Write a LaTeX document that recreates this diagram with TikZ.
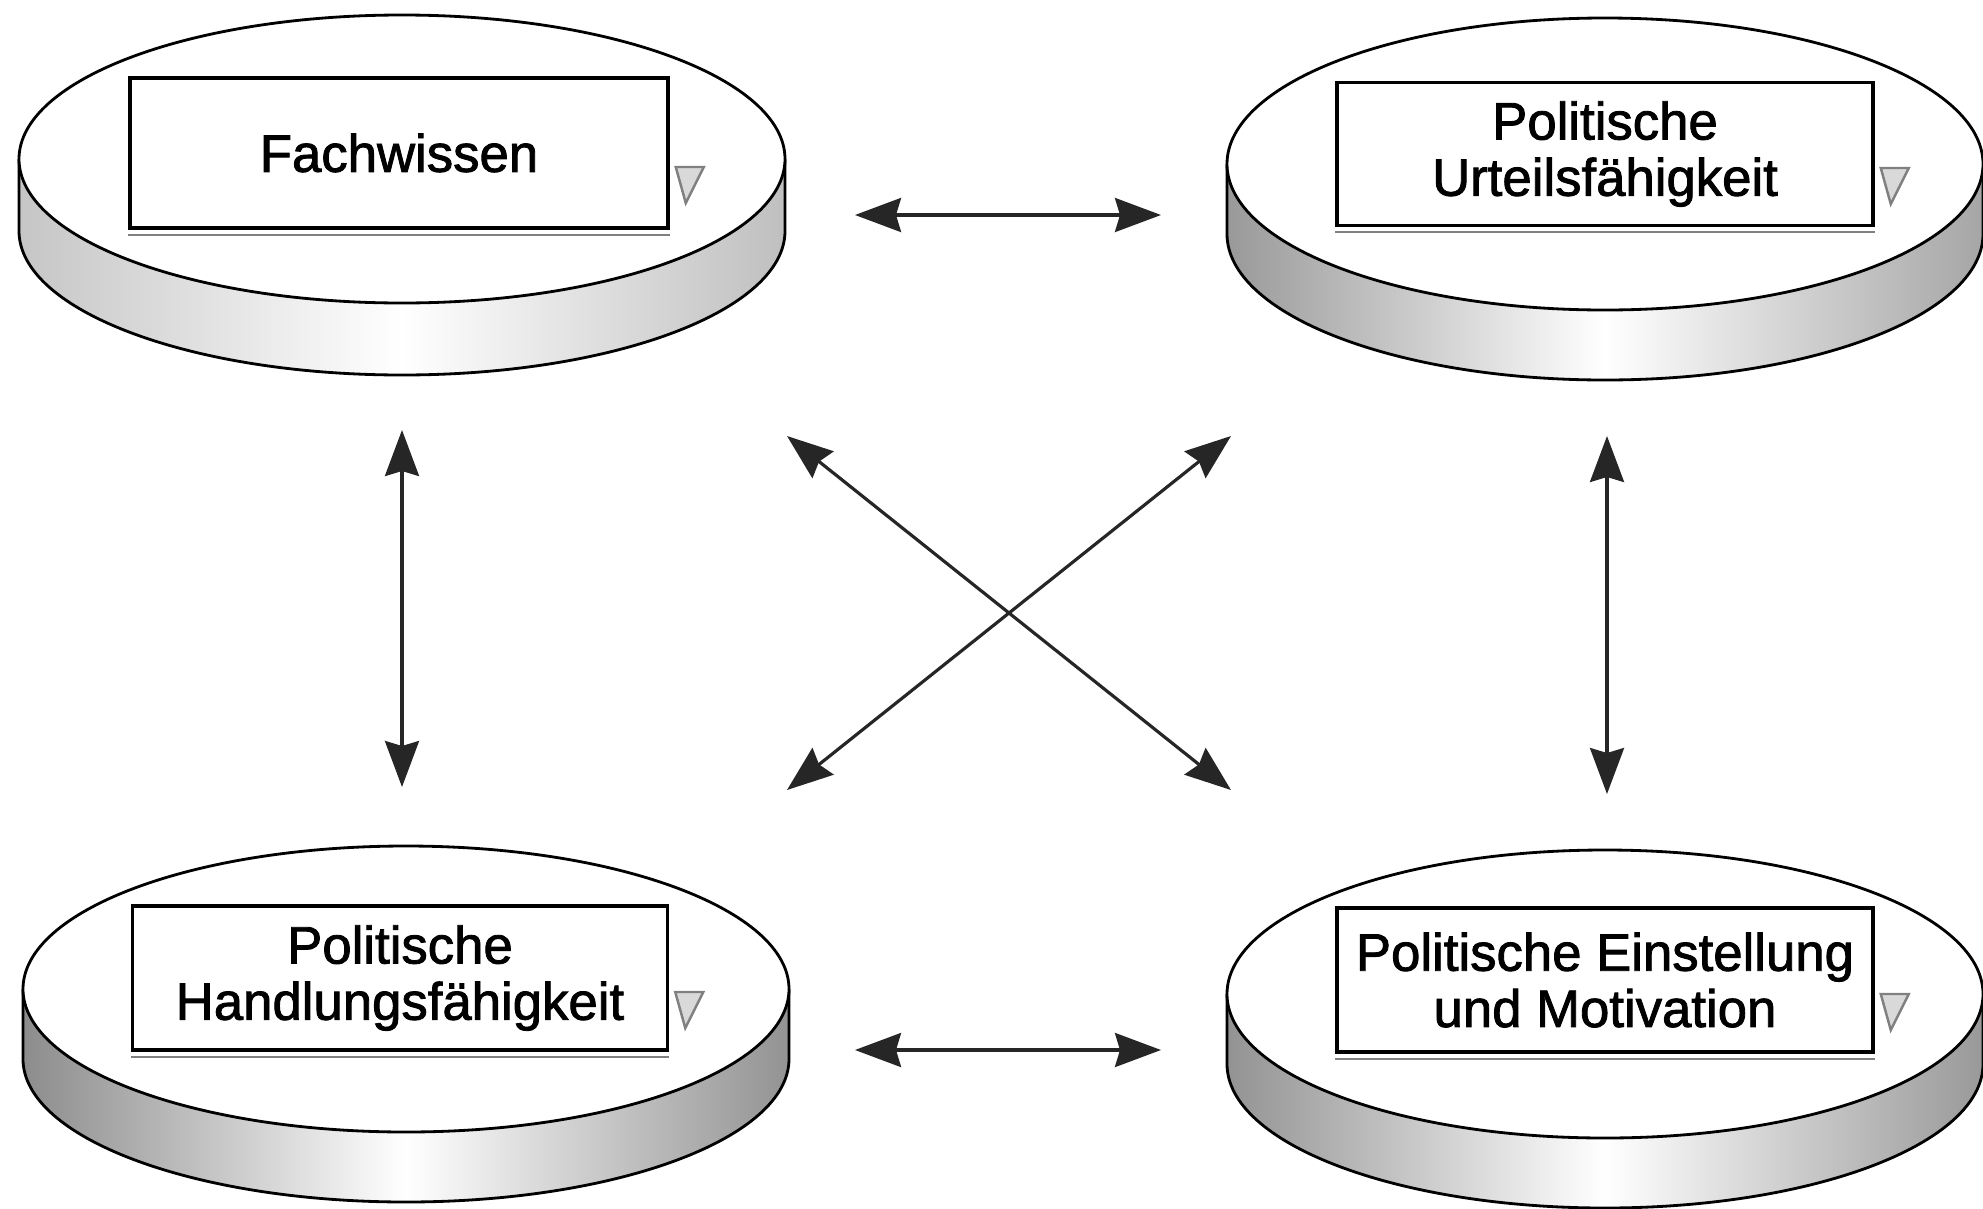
\documentclass[tikz,border=0pt]{standalone}
\usepackage{fontspec}
\setmainfont{Liberation Sans}
\newfontfamily\compfont[FakeBold=1.6]{Liberation Sans}
\usepackage{tikz}
\usetikzlibrary{arrows.meta, positioning, calc}
% disc: centre, x radius, y radius, thickness, left shade, right shade
\newcommand{\drawdisc}[6]{%
  \path[left color=#5, right color=#6, middle color=white]
    ($#1+(-#2,0)$) -- ++(0,-#4) arc[start angle=180, end angle=360, x radius=#2, y radius=#3]
    -- ++(0,#4) arc[start angle=0, end angle=-180, x radius=#2, y radius=#3] -- cycle;
  \draw[discline] ($#1+(-#2,0)$) -- ++(0,-#4) arc[start angle=180, end angle=360, x radius=#2, y radius=#3] -- ++(0,#4);
  \draw[discline, fill=white] #1 ellipse[x radius=#2, y radius=#3];
}

\begin{document}
\begin{tikzpicture}[
  discline/.style={line width=0.8pt, black},
  compbox/.style={draw, line width=1pt, fill=white, align=center, inner sep=2pt, font=\compfont\fontsize{15}{16}\selectfont},
  boxshadow/.style={gray, line width=0.7pt},
  link/.style={<->, >={Stealth[length=4.6mm, width=3.4mm, inset=0.5mm]}, line width=0.9pt, black!85}
]
\useasboundingbox (0,0) rectangle (19.83,12.08);

% Discs
\drawdisc{(4.02,10.49)}{3.83}{1.44}{0.72}{gray!45}{gray!50}
\drawdisc{(16.05,10.44)}{3.78}{1.46}{0.70}{gray!80}{gray!70}
\drawdisc{(4.06,2.19)}{3.83}{1.43}{0.70}{gray!90}{gray!85}
\drawdisc{(16.05,2.14)}{3.78}{1.44}{0.70}{gray!85}{gray!80}

% Boxes on the discs
\node[compbox, minimum width=5.38cm, minimum height=1.50cm] (fach) at (3.99,10.55) {Fachwissen};
\node[compbox, minimum width=5.36cm, minimum height=1.43cm] (urteil) at (16.05,10.54) {Politische\\Urteilsfähigkeit};
\node[compbox, minimum width=5.35cm, minimum height=1.44cm] (handl) at (4.00,2.30) {Politische\\Handlungsfähigkeit};
\node[compbox, minimum width=5.36cm, minimum height=1.44cm] (einst) at (16.05,2.28) {Politische Einstellung\\und Motivation};

\draw[boxshadow] ([yshift=-0.05cm]fach.south west) -- ([yshift=-0.05cm]fach.south east);
\draw[boxshadow, fill=gray!30] ([xshift=0.06cm, yshift=-0.14cm]fach.east) -- ++(0.28,0) -- ++(-0.18,-0.36) -- cycle;
\draw[boxshadow] ([yshift=-0.05cm]urteil.south west) -- ([yshift=-0.05cm]urteil.south east);
\draw[boxshadow, fill=gray!30] ([xshift=0.06cm, yshift=-0.14cm]urteil.east) -- ++(0.28,0) -- ++(-0.18,-0.36) -- cycle;
\draw[boxshadow] ([yshift=-0.05cm]handl.south west) -- ([yshift=-0.05cm]handl.south east);
\draw[boxshadow, fill=gray!30] ([xshift=0.06cm, yshift=-0.14cm]handl.east) -- ++(0.28,0) -- ++(-0.18,-0.36) -- cycle;
\draw[boxshadow] ([yshift=-0.05cm]einst.south west) -- ([yshift=-0.05cm]einst.south east);
\draw[boxshadow, fill=gray!30] ([xshift=0.06cm, yshift=-0.14cm]einst.east) -- ++(0.28,0) -- ++(-0.18,-0.36) -- cycle;

% Arrow ends between the discs
\coordinate (fach-r) at (8.55,9.93);
\coordinate (urteil-l) at (11.61,9.93);
\coordinate (handl-r) at (8.55,1.58);
\coordinate (einst-l) at (11.61,1.58);
\coordinate (fach-d) at (4.02,7.78);
\coordinate (handl-u) at (4.02,4.21);
\coordinate (urteil-d) at (16.07,7.72);
\coordinate (einst-u) at (16.07,4.14);
\coordinate (fach-dr) at (7.87,7.72);
\coordinate (einst-ul) at (12.31,4.18);
\coordinate (urteil-dl) at (12.31,7.72);
\coordinate (handl-ur) at (7.87,4.18);

\draw[link] (fach-r) -- (urteil-l);
\draw[link] (handl-r) -- (einst-l);
\draw[link] (fach-d) -- (handl-u);
\draw[link] (urteil-d) -- (einst-u);
\draw[link] (fach-dr) -- (einst-ul);
\draw[link] (urteil-dl) -- (handl-ur);

\end{tikzpicture}
\end{document}
